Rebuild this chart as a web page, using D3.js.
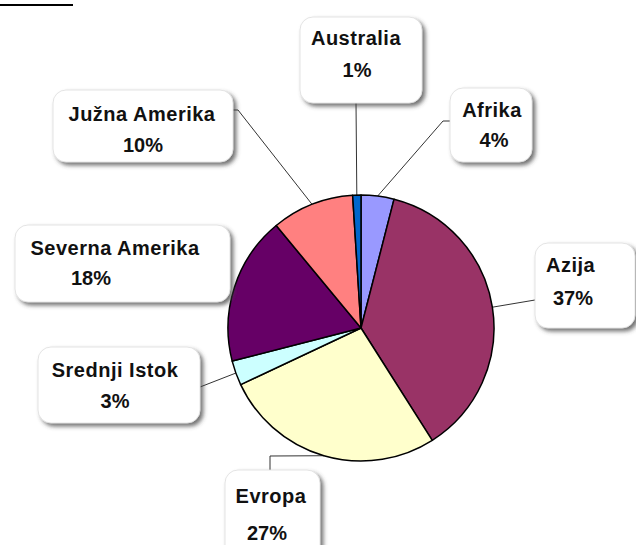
<!DOCTYPE html>
<html>
<head>
<meta charset="utf-8">
<script src="https://cdn.jsdelivr.net/npm/d3@7"></script>
<style>
  body { margin: 0; background: #fff; }
  svg { display: block; }
</style>
</head>
<body>
<div id="pie_chart"></div>
<script>
// Data
const regions = ["Afrika", "Azija", "Evropa", "Srednji Istok", "Severna Amerika", "Južna Amerika", "Australia"];
const shares = [4, 37, 27, 3, 18, 10, 1];
const sliceColors = ["#9999ff", "#993366", "#ffffcc", "#ccffff", "#660066", "#ff8080", "#0066cc"];

// Label boxes (layout only): box rect, text positions, leader elbow
const labelLayout = {
    "Afrika":          { box: [450, 88, 82, 74],   t: [492, 117, 494, 147], anchor: "middle", elbow: [[443, 121], [450, 121]] },
    "Azija":           { box: [535, 243, 100, 85], t: [546, 272, 553, 305], anchor: "start",  elbow: [[535, 300]] },
    "Evropa":          { box: [225, 470, 95, 90],  t: [271, 503, 267, 540], anchor: "middle", elbow: [[270, 456], [270, 470]] },
    "Srednji Istok":   { box: [38, 347, 162, 76],  t: [115, 377, 115, 408], anchor: "middle", elbow: [[200, 387]] },
    "Severna Amerika": { box: [15, 225, 215, 77],  t: [115, 255, 91, 285],  anchor: "middle", elbow: null },
    "Južna Amerika":   { box: [53, 90, 180, 72],   t: [142, 121, 143, 152], anchor: "middle", elbow: [[238, 110], [233, 110]] },
    "Australia":       { box: [300, 17, 122, 86],  t: [356, 45, 357, 77],   anchor: "middle", elbow: [[356, 103]] }
};

const width = 636, height = 545;
const cx = 361, cy = 328, radius = 133;

const svg = d3.select("#pie_chart")
    .append("svg")
    .attr("width", width)
    .attr("height", height);

// Shadow for the label boxes
const defs = svg.append("defs");
defs.append("filter")
    .attr("id", "shadow")
    .attr("x", "-20%").attr("y", "-20%")
    .attr("width", "150%").attr("height", "150%")
    .append("feDropShadow")
    .attr("dx", 3).attr("dy", 3)
    .attr("stdDeviation", 2)
    .attr("flood-color", "#444")
    .attr("flood-opacity", 0.75);

// Underline of the cut-off heading at the top
svg.append("line")
    .attr("x1", 0).attr("x2", 73)
    .attr("y1", 5).attr("y2", 5)
    .attr("stroke", "#000")
    .attr("stroke-width", 2);

const data = regions.map((r, i) => ({ region: r, value: shares[i], color: sliceColors[i] }));

const pie = d3.pie()
    .value(d => d.value)
    .sort(null);
const arcs = pie(data);

const arc = d3.arc()
    .innerRadius(0)
    .outerRadius(radius);

// Leader lines
const lines = svg.append("g").attr("fill", "none").attr("stroke", "#333").attr("stroke-width", 1);
arcs.forEach(a => {
    const lay = labelLayout[a.data.region];
    if (!lay.elbow) return;
    const mid = (a.startAngle + a.endAngle) / 2;
    const start = [cx + radius * Math.sin(mid), cy - radius * Math.cos(mid)];
    lines.append("path")
        .attr("d", d3.line()([start].concat(lay.elbow)));
});

// Slices
svg.append("g")
    .attr("transform", `translate(${cx},${cy})`)
    .selectAll("path")
    .data(arcs)
    .join("path")
    .attr("d", arc)
    .attr("fill", d => d.data.color)
    .attr("stroke", "#000")
    .attr("stroke-width", 1.5)
    .attr("stroke-linejoin", "round");

// Label boxes
const labels = svg.append("g")
    .selectAll("g")
    .data(arcs)
    .join("g");

labels.append("rect")
    .attr("x", d => labelLayout[d.data.region].box[0])
    .attr("y", d => labelLayout[d.data.region].box[1])
    .attr("width", d => labelLayout[d.data.region].box[2])
    .attr("height", d => labelLayout[d.data.region].box[3])
    .attr("rx", 13)
    .attr("fill", "#fff")
    .attr("stroke", "#ddd")
    .attr("stroke-width", 0.8)
    .attr("filter", "url(#shadow)");

labels.append("text")
    .attr("x", d => labelLayout[d.data.region].t[0])
    .attr("y", d => labelLayout[d.data.region].t[1])
    .attr("text-anchor", d => labelLayout[d.data.region].anchor)
    .style("font-family", "Arial, 'Liberation Sans', sans-serif")
    .style("font-weight", "bold")
    .style("font-size", "20px")
    .style("letter-spacing", "0.5px")
    .style("fill", "#111")
    .text(d => d.data.region);

labels.append("text")
    .attr("x", d => labelLayout[d.data.region].t[2])
    .attr("y", d => labelLayout[d.data.region].t[3])
    .attr("text-anchor", d => labelLayout[d.data.region].anchor)
    .style("font-family", "Arial, 'Liberation Sans', sans-serif")
    .style("font-weight", "bold")
    .style("font-size", "20px")
    .style("fill", "#111")
    .text(d => d.data.value + "%");
</script>
</body>
</html>
